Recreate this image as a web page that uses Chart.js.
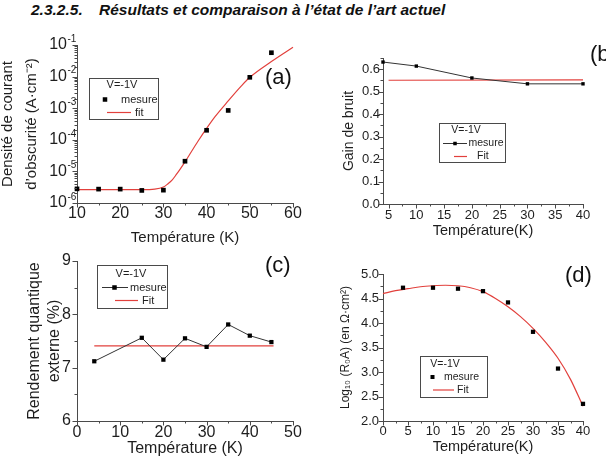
<!DOCTYPE html>
<html>
<head>
<meta charset="utf-8">
<script src="https://cdn.jsdelivr.net/npm/chart.js@4.4.0/dist/chart.umd.min.js"></script>
<style>
    body { margin: 0; background: #fff; }
    #page { position: relative; width: 606px; height: 468px; overflow: hidden; }
    #page canvas { position: absolute; left: 0; top: 0; }
    .head { position: absolute; top: 2px; font: italic bold 15.5px/15.5px "Liberation Sans", Arial, sans-serif; color: #111; white-space: nowrap; }
</style>
</head>
<body>
<div id="page">
    <div class="head" style="left:31px">2.3.2.5.</div>
    <div class="head" style="left:99px">Résultats et comparaison à l’état de l’art actuel</div>
    <canvas id="chartA" width="606" height="468"></canvas>
    <canvas id="chartB" width="606" height="468"></canvas>
    <canvas id="chartC" width="606" height="468"></canvas>
    <canvas id="chartD" width="606" height="468"></canvas>
</div>
<script>
// (a) densité de courant d'obscurité
var tempA = [10, 15, 20, 25, 30, 35, 40, 45, 50, 55];
var mesureA = [2.8e-6, 2.75e-6, 2.75e-6, 2.5e-6, 2.55e-6, 2.1e-5, 2.0e-4, 8.5e-4, 9.5e-3, 5.7e-2];
var fitTempA = [10, 15, 20, 25, 28, 30, 31, 32, 33, 34, 35, 36, 38, 40, 42, 45, 48, 50, 55, 60];
var fitA = [2.65e-6, 2.65e-6, 2.65e-6, 2.65e-6, 2.75e-6, 3.2e-6, 4e-6, 5.3e-6, 8e-6, 1.25e-5, 2e-5, 3.3e-5, 9e-5, 2.3e-4, 5.5e-4, 1.7e-3, 5e-3, 9.5e-3, 3e-2, 8.5e-2];
var xTicksA = [10, 20, 30, 40, 50, 60];
var yTicksA = [1e-6, 1e-5, 1e-4, 1e-3, 1e-2, 1e-1];

// (b) gain de bruit
var tempB = [4, 10, 20, 30, 40];
var mesureB = [0.632, 0.614, 0.561, 0.535, 0.535];
var fitTempB = [5, 40];
var fitB = [0.551, 0.553];
var xTicksB = [5, 10, 15, 20, 25, 30, 35, 40];
var yTicksB = [0, 0.1, 0.2, 0.3, 0.4, 0.5, 0.6];

// (c) rendement quantique externe
var tempC = [4, 15, 20, 25, 30, 35, 40, 45];
var mesureC = [7.12, 7.56, 7.15, 7.55, 7.39, 7.81, 7.60, 7.48];
var fitTempC = [4, 45.5];
var fitC = [7.41, 7.41];
var xTicksC = [0, 10, 20, 30, 40, 50];
var yTicksC = [6, 7, 8, 9];

// (d) log10(R0A)
var tempD = [4, 10, 15, 20, 25, 30, 35, 40];
var mesureD = [4.72, 4.72, 4.70, 4.65, 4.42, 3.82, 3.07, 2.35];
var fitTempD = [0, 2.5, 5, 7.5, 10, 12.5, 15, 17.5, 20, 22.5, 25, 27.5, 30, 32.5, 35, 37.5, 40];
var fitD = [4.60, 4.66, 4.70, 4.74, 4.76, 4.77, 4.76, 4.72, 4.64, 4.50, 4.33, 4.13, 3.89, 3.61, 3.28, 2.85, 2.30];
var xTicksD = [0, 5, 10, 15, 20, 25, 30, 35, 40];
var yTicksD = [2.0, 2.5, 3.0, 3.5, 4.0, 4.5, 5.0];

var legendTitle = 'V=-1V';

(function () {
    "use strict";

    var FONT = '"Liberation Sans", Arial, sans-serif';
    var AXIS = '#4a4a4a';
    var INK = '#1e1e1e';
    var RED = '#e2403c';

    function pts(xs, ys) {
        return xs.map(function (x, i) { return {x: x, y: ys[i]}; });
    }

    function sup(n) {
        var map = {'-': '⁻', '0': '⁰', '1': '¹', '2': '²', '3': '³', '4': '⁴', '5': '⁵', '6': '⁶', '7': '⁷', '8': '⁸', '9': '⁹'};
        return String(n).split('').map(function (c) { return map[c]; }).join('');
    }

    function fixed1(v) { return v.toFixed(1); }
    function plain(v) { return String(v); }
    // base only, the exponent is drawn raised by the decor plugin
    function base10() { return '10'; }

    function axis(o) {
        return {
            type: o.type || 'linear',
            position: o.position,
            min: o.min,
            max: o.max,
            afterBuildTicks: function (s) {
                s.ticks = o.ticks.map(function (v) { return {value: v}; });
            },
            afterFit: function (s) {
                if (o.position === 'left') { s.width = o.size; } else { s.height = o.size; }
            },
            grid: {display: true, drawOnChartArea: false, drawTicks: false},
            border: {display: true, color: AXIS, width: 1},
            ticks: {
                autoSkip: false,
                maxRotation: 0,
                padding: o.pad,
                color: INK,
                font: {family: FONT, size: o.font},
                callback: o.fmt
            },
            title: {
                display: true,
                text: o.title,
                color: INK,
                font: {family: FONT, size: o.titleFont, lineHeight: o.titleLH || 1.2},
                padding: o.titlePad || 0
            }
        };
    }

    function minorValues(s, majors) {
        var out = [], v, e, m;
        if (s.type === 'logarithmic') {
            for (e = Math.floor(Math.log10(s.min)); e <= Math.ceil(Math.log10(s.max)); e++) {
                for (m = 2; m < 10; m++) {
                    v = m * Math.pow(10, e);
                    if (v > s.min && v < s.max) { out.push(v); }
                }
            }
            return out;
        }
        var step = majors[1] - majors[0];
        for (v = majors[0] - step / 2; v <= s.max + 1e-9; v += step) {
            if (v >= s.min - 1e-9) { out.push(v); }
        }
        return out;
    }

    var decor = {
        id: 'decor',
        afterDraw: function (chart, args, o) {
            var ctx = chart.ctx;
            ctx.save();

            // Origin-style outward ticks
            Object.keys(chart.scales).forEach(function (k) {
                var s = chart.scales[k];
                var horiz = s.isHorizontal();
                var majors = s.ticks.map(function (t) { return t.value; });
                ctx.strokeStyle = AXIS;
                ctx.lineWidth = 1;
                ctx.beginPath();
                [[majors, 4.5], [minorValues(s, majors), 2.5]].forEach(function (pair) {
                    pair[0].forEach(function (v) {
                        var p = Math.round(s.getPixelForValue(v)) + 0.5;
                        if (horiz) {
                            ctx.moveTo(p, s.top);
                            ctx.lineTo(p, s.top + pair[1]);
                        } else {
                            ctx.moveTo(s.right, p);
                            ctx.lineTo(s.right - pair[1], p);
                        }
                    });
                });
                ctx.stroke();
            });

            // raised exponents of the log axis
            if (o.exponent) {
                var ys = chart.scales.y;
                ctx.font = o.exponent.font + 'px ' + FONT;
                ctx.fillStyle = INK;
                ctx.textAlign = 'left';
                ctx.textBaseline = 'middle';
                ys.ticks.forEach(function (t) {
                    var e = Math.round(Math.log10(t.value));
                    ctx.fillText(String(e), o.exponent.x, ys.getPixelForValue(t.value) - o.exponent.rise);
                });
            }

            // legend box
            var L = o.legend;
            ctx.strokeStyle = AXIS;
            ctx.lineWidth = 1;
            ctx.strokeRect(L.box[0] + 0.5, L.box[1] + 0.5, L.box[2], L.box[3]);
            ctx.font = L.font + 'px ' + FONT;
            ctx.textBaseline = 'middle';
            ctx.fillStyle = INK;
            ctx.textAlign = 'center';
            ctx.fillText(legendTitle, L.head[0], L.head[1]);
            ctx.textAlign = 'left';
            L.rows.forEach(function (r) {
                var ds = chart.data.datasets[r.ds];
                if (r.line) {
                    ctx.strokeStyle = ds.borderColor;
                    ctx.lineWidth = ds.borderWidth;
                    ctx.beginPath();
                    ctx.moveTo(r.line[0], r.y);
                    ctx.lineTo(r.line[1], r.y);
                    ctx.stroke();
                }
                if (r.mark) {
                    ctx.fillStyle = '#000';
                    ctx.fillRect(r.mark - L.mark / 2, r.y - L.mark / 2, L.mark, L.mark);
                }
                ctx.fillStyle = INK;
                ctx.fillText(ds.label, r.tx, r.y);
            });

            // panel letter
            ctx.font = '22px ' + FONT;
            ctx.textBaseline = 'alphabetic';
            ctx.fillStyle = '#111';
            ctx.fillText(o.label, o.labelPos[0], o.labelPos[1]);
            ctx.restore();
        }
    };

    function mesureSet(data, radius, line) {
        return {
            label: 'mesure',
            data: data,
            showLine: line,
            borderColor: '#333',
            borderWidth: 1,
            pointStyle: 'rect',
            pointRadius: radius,
            pointBorderWidth: 0,
            pointBackgroundColor: '#000',
            clip: false
        };
    }

    function fitSet(label, data) {
        return {
            label: label,
            data: data,
            borderColor: RED,
            borderWidth: 1.2,
            pointRadius: 0,
            tension: 0.4,
            cubicInterpolationMode: 'monotone',
            clip: false
        };
    }

    function panel(id, p) {
        return new Chart(document.getElementById(id), {
            type: 'line',
            data: {datasets: p.datasets},
            options: {
                responsive: false,
                animation: false,
                devicePixelRatio: 1,
                layout: {padding: p.padding},
                scales: {x: p.x, y: p.y},
                plugins: {
                    legend: {display: false},
                    tooltip: {enabled: false},
                    decor: p.decor
                }
            },
            plugins: [decor]
        });
    }

    panel('chartA', {
        padding: {left: 0, top: 45, right: 313, bottom: 221},
        datasets: [mesureSet(pts(tempA, mesureA), 3.3, false), fitSet('fit', pts(fitTempA, fitA))],
        x: axis({position: 'bottom', min: 10, max: 60, ticks: xTicksA, size: 44, pad: 0.5, font: 16, fmt: plain,
            title: 'Température (K)', titleFont: 15}),
        y: axis({type: 'logarithmic', position: 'left', min: 1e-6, max: 1e-1, ticks: yTicksA, size: 77, pad: 10, font: 16, fmt: base10,
            title: ['Densité de courant', 'd\u2019obscurité (A·cm' + sup(-2) + ')'], titleFont: 15, titleLH: 1.6, titlePad: {top: -4}}),
        decor: {
            label: '(a)', labelPos: [265, 83.5],
            exponent: {x: 67.5, rise: 6, font: 10},
            legend: {box: [89, 78, 69, 41], font: 11, mark: 4.5, head: [122, 85],
                rows: [{ds: 0, mark: 105, y: 99.5, tx: 121}, {ds: 1, line: [107, 131], y: 112.5, tx: 135}]}
        }
    });

    panel('chartB', {
        padding: {left: 341, top: 58, right: 23, bottom: 228},
        datasets: [mesureSet(pts(tempB, mesureB), 2.4, true), fitSet('Fit', pts(fitTempB, fitB))],
        x: axis({position: 'bottom', min: 4, max: 40, ticks: xTicksB, size: 36, pad: 3.5, font: 13, fmt: plain,
            title: 'Température(K)', titleFont: 14.5}),
        y: axis({position: 'left', min: 0, max: 0.65, ticks: yTicksB, size: 42, pad: 3, font: 13, fmt: fixed1,
            title: 'Gain de bruit', titleFont: 14}),
        decor: {
            label: '(b)', labelPos: [590, 60.5],
            legend: {box: [439, 123, 66, 39], font: 10.5, mark: 3.5, head: [466, 130],
                rows: [{ds: 0, line: [443, 467], mark: 455, y: 143.5, tx: 468.5}, {ds: 1, line: [454, 467], y: 156.5, tx: 477}]}
        }
    });

    panel('chartC', {
        padding: {left: 25, top: 261, right: 313, bottom: 10},
        datasets: [mesureSet(pts(tempC, mesureC), 3, true), fitSet('Fit', pts(fitTempC, fitC))],
        x: axis({position: 'bottom', min: 0, max: 50, ticks: xTicksC, size: 37, pad: 2, font: 16, fmt: plain,
            title: 'Température (K)', titleFont: 16}),
        y: axis({position: 'left', min: 6, max: 9, ticks: yTicksC, size: 52, pad: 6, font: 16, fmt: plain,
            title: ['Rendement quantique', 'externe (%)'], titleFont: 16, titleLH: 1.25}),
        decor: {
            label: '(c)', labelPos: [265, 272],
            legend: {box: [97, 265, 70, 43], font: 11, mark: 4.5, head: [131, 273.5],
                rows: [{ds: 0, line: [102, 128], mark: 114.5, y: 287.5, tx: 130}, {ds: 1, line: [115, 138], y: 300.5, tx: 142}]}
        }
    });

    panel('chartD', {
        padding: {left: 338, top: 274, right: 23, bottom: 12},
        datasets: [mesureSet(pts(tempD, mesureD), 3, false), fitSet('Fit', pts(fitTempD, fitD))],
        x: axis({position: 'bottom', min: 0, max: 40, ticks: xTicksD, size: 35, pad: 3, font: 13, fmt: plain,
            title: 'Température(K)', titleFont: 14.5}),
        y: axis({position: 'left', min: 2, max: 5, ticks: yTicksD, size: 45, pad: 4, font: 13, fmt: fixed1,
            title: 'Log\u2081\u2080 (R\u2080A) (en \u03A9·cm\u00B2)', titleFont: 12}),
        decor: {
            label: '(d)', labelPos: [565, 282],
            legend: {box: [420, 356, 67, 41], font: 10.5, mark: 4, head: [445, 364],
                rows: [{ds: 0, mark: 432.5, y: 377, tx: 444}, {ds: 1, line: [433, 454], y: 390, tx: 457}]}
        }
    });
}());
</script>
</body>
</html>
